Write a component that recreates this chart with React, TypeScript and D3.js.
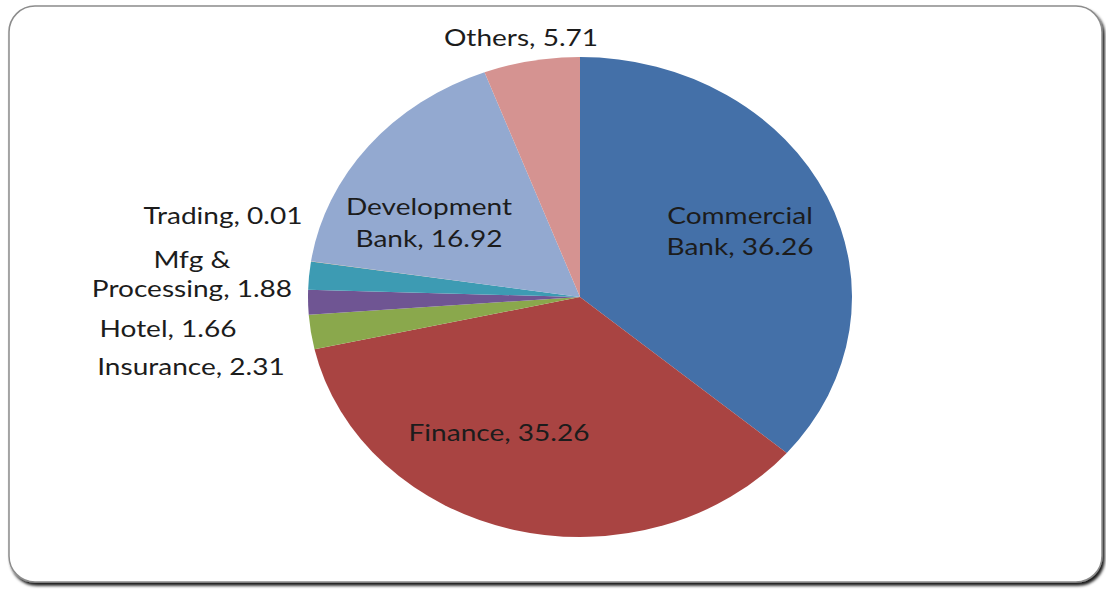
import React, { useRef, useEffect } from 'react';
import * as d3 from 'd3';

const sectors = ["Commercial Bank", "Finance", "Insurance", "Hotel", "Mfg & Processing", "Trading", "Development Bank", "Others"];
const shares = [36.26, 35.26, 2.31, 1.66, 1.88, 0.01, 16.92, 5.71];
const colors = ["#4470a8", "#a94442", "#8aa84c", "#6f5593", "#3d9bb3", "#e8954a", "#93a9d0", "#d59391"];

// label lines and where each label sits (centre x, first baseline)
const labelLines = [
  ["Commercial", "Bank, 36.26"],
  ["Finance, 35.26"],
  ["Insurance, 2.31"],
  ["Hotel, 1.66"],
  ["Mfg &", "Processing, 1.88"],
  ["Trading, 0.01"],
  ["Development", "Bank, 16.92"],
  ["Others, 5.71"]
];
const labelPos = [
  { x: 740, y: 224, gap: 31 },
  { x: 499, y: 441, gap: 0 },
  { x: 191, y: 375, gap: 0 },
  { x: 168, y: 337, gap: 0 },
  { x: 192, y: 268, gap: 29 },
  { x: 223, y: 224, gap: 0 },
  { x: 429, y: 215, gap: 32 },
  { x: 521, y: 46, gap: 0 }
];

const App: React.FC = () => {
  const svgRef = useRef<SVGSVGElement | null>(null);

  useEffect(() => {
    const width = 1106;
    const height = 589;
    const svg = d3.select(svgRef.current);
    svg.selectAll("*").remove();
    svg.attr("width", width).attr("height", height);

    const defs = svg.append("defs");
    const f = defs.append("filter").attr("id", "shadow").attr("x", "-5%").attr("y", "-5%").attr("width", "110%").attr("height", "115%");
    f.append("feDropShadow").attr("dx", 2).attr("dy", 3).attr("stdDeviation", 1.5).attr("flood-color", "#000").attr("flood-opacity", 0.9);

    // frame
    svg.append("rect")
      .attr("x", 9).attr("y", 6)
      .attr("width", 1093).attr("height", 576)
      .attr("rx", 26).attr("ry", 26)
      .attr("fill", "#fff")
      .attr("stroke", "#8c8c8c")
      .attr("stroke-width", 1.5)
      .attr("filter", "url(#shadow)");

    const cx = 580;
    const cy = 297;
    const ry = 240;
    const rx = 272;

    const pie = d3.pie<number>().sort(null).value(d => d);
    const arc = d3.arc<d3.PieArcDatum<number>>().innerRadius(0).outerRadius(ry);

    const g = svg.append("g")
      .attr("transform", `translate(${cx},${cy}) scale(${rx / ry},1)`);

    g.selectAll("path")
      .data(pie(shares))
      .join("path")
      .attr("d", arc)
      .attr("fill", (_, i) => colors[i])
      .attr("stroke", "none");

    // the picture is stretched sideways, so the text is too
    const labels = svg.append("g")
      .attr("font-family", "Lato, 'Open Sans', sans-serif")
      .attr("font-size", 23)
      .attr("fill", "#1c1c1c");

    sectors.forEach((name, i) => {
      const p = labelPos[i];
      const t = labels.append("text")
        .attr("transform", `translate(${p.x},${p.y}) scale(1.22,1)`)
        .attr("text-anchor", "middle")
        .attr("data-name", name);
      labelLines[i].forEach((line, j) => {
        t.append("tspan")
          .attr("x", 0)
          .attr("dy", j === 0 ? 0 : p.gap)
          .text(line);
      });
    });
  }, []);

  return (
    <div style={{ position: "absolute", left: 0, top: 0 }}>
      <svg ref={svgRef} style={{ display: "block" }}></svg>
    </div>
  );
};

export default App;
